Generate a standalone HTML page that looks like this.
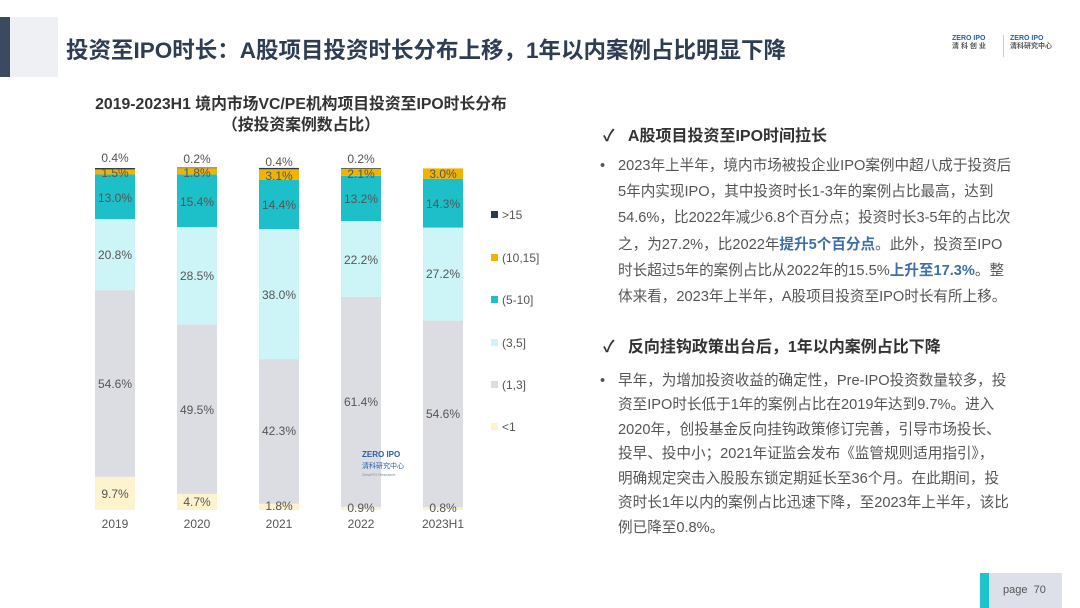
<!DOCTYPE html>
<html><head><meta charset="utf-8">
<style>
body{margin:0;width:1080px;height:608px;background:#fff;position:relative;overflow:hidden;font-family:"Liberation Sans","Noto Sans CJK SC",sans-serif;}
.abs{position:absolute;white-space:nowrap;}
.t{font-size:14.6px;color:#555;line-height:17px;}
.b{color:#3e6ea8;font-weight:bold;}
</style></head><body>
<div class="abs" style="left:0;top:17px;width:10px;height:60px;background:#3b4a5e"></div>
<div class="abs" style="left:10px;top:17px;width:48px;height:60px;background:#eef0f4"></div>
<div class="abs" style="left:66px;top:33px;font-size:22.5px;font-weight:bold;color:#2f3d52;">投资至IPO时长：A股项目投资时长分布上移，1年以内案例占比明显下降</div>
<div class="abs" style="left:952px;top:35px;font-size:7px;color:#2a5ea8;font-weight:bold;line-height:8px;">ZERO IPO<br><span style="color:#555">清 科 创 业</span></div>
<div class="abs" style="left:1003px;top:35px;width:1px;height:22px;background:#ccc"></div>
<div class="abs" style="left:1010px;top:35px;font-size:7px;color:#2a5ea8;font-weight:bold;line-height:8px;">ZERO IPO<br><span style="color:#555">清科研究中心</span></div>

<div class="abs" style="left:0;width:602px;top:94px;text-align:center;font-size:15.8px;font-weight:bold;color:#333;line-height:21px;">2019-2023H1 境内市场VC/PE机构项目投资至IPO时长分布<br>（按投资案例数占比）</div>

<svg class="abs" style="left:0;top:0" width="600" height="608" font-family="Liberation Sans, sans-serif" font-size="12" fill="#555" text-anchor="middle">
<g>
<rect x="95" y="476.8" width="40" height="33.2" fill="#fdf3cc"/><rect x="95" y="290.1" width="40" height="186.7" fill="#dcdde3"/><rect x="95" y="219" width="40" height="71.1" fill="#cdf4f6"/><rect x="95" y="174.5" width="40" height="44.5" fill="#1dbfc9"/><rect x="95" y="169.4" width="40" height="5.1" fill="#f0b400"/><rect x="95" y="168" width="40" height="1.4" fill="#2d3a4e"/>
<rect x="177" y="493.9" width="40" height="16.1" fill="#fdf3cc"/><rect x="177" y="324.6" width="40" height="169.3" fill="#dcdde3"/><rect x="177" y="227.1" width="40" height="97.5" fill="#cdf4f6"/><rect x="177" y="174.4" width="40" height="52.7" fill="#1dbfc9"/><rect x="177" y="168.2" width="40" height="6.2" fill="#f0b400"/><rect x="177" y="167.5" width="40" height="0.7" fill="#2d3a4e"/>
<rect x="259" y="503.8" width="40" height="6.2" fill="#fdf3cc"/><rect x="259" y="359.1" width="40" height="144.7" fill="#dcdde3"/><rect x="259" y="229.1" width="40" height="130" fill="#cdf4f6"/><rect x="259" y="179.9" width="40" height="49.2" fill="#1dbfc9"/><rect x="259" y="169.3" width="40" height="10.6" fill="#f0b400"/><rect x="259" y="167.9" width="40" height="1.4" fill="#2d3a4e"/>
<rect x="341" y="506.9" width="40" height="3.1" fill="#fdf3cc"/><rect x="341" y="296.9" width="40" height="210" fill="#dcdde3"/><rect x="341" y="221" width="40" height="75.9" fill="#cdf4f6"/><rect x="341" y="175.9" width="40" height="45.1" fill="#1dbfc9"/><rect x="341" y="168.7" width="40" height="7.2" fill="#f0b400"/><rect x="341" y="168" width="40" height="0.7" fill="#2d3a4e"/>
<rect x="423" y="507.3" width="40" height="2.7" fill="#fdf3cc"/><rect x="423" y="320.6" width="40" height="186.7" fill="#dcdde3"/><rect x="423" y="227.6" width="40" height="93" fill="#cdf4f6"/><rect x="423" y="178.7" width="40" height="48.9" fill="#1dbfc9"/><rect x="423" y="168.4" width="40" height="10.3" fill="#f0b400"/>
</g>
<g>
<text x="115" y="162">0.4%</text><text x="115" y="177">1.5%</text><text x="115" y="202">13.0%</text><text x="115" y="259">20.8%</text><text x="115" y="388">54.6%</text><text x="115" y="498">9.7%</text>
<text x="197" y="163">0.2%</text><text x="197" y="177">1.8%</text><text x="197" y="206">15.4%</text><text x="197" y="280">28.5%</text><text x="197" y="414">49.5%</text><text x="197" y="506">4.7%</text>
<text x="279" y="166">0.4%</text><text x="279" y="180">3.1%</text><text x="279" y="209">14.4%</text><text x="279" y="299">38.0%</text><text x="279" y="435">42.3%</text><text x="279" y="510">1.8%</text>
<text x="361" y="163">0.2%</text><text x="361" y="178">2.1%</text><text x="361" y="203">13.2%</text><text x="361" y="264">22.2%</text><text x="361" y="406">61.4%</text><text x="361" y="512">0.9%</text>
<text x="443" y="178">3.0%</text><text x="443" y="208">14.3%</text><text x="443" y="278">27.2%</text><text x="443" y="418">54.6%</text><text x="443" y="512">0.8%</text>
<text x="115" y="528">2019</text><text x="197" y="528">2020</text><text x="279" y="528">2021</text><text x="361" y="528">2022</text><text x="443" y="528">2023H1</text>
</g>
<g text-anchor="start" font-size="12">
<rect x="491" y="211" width="7" height="7" fill="#2d3a4e"/><text x="502" y="219">&gt;15</text>
<rect x="491" y="254" width="7" height="7" fill="#f0b400"/><text x="502" y="262">(10,15]</text>
<rect x="491" y="296" width="7" height="7" fill="#1dbfc9"/><text x="502" y="304">(5-10]</text>
<rect x="491" y="339" width="7" height="7" fill="#cdf4f6"/><text x="502" y="347">(3,5]</text>
<rect x="491" y="381" width="7" height="7" fill="#dcdde3"/><text x="502" y="389">(1,3]</text>
<rect x="491" y="423" width="7" height="7" fill="#fdf3cc"/><text x="502" y="431">&lt;1</text>
</g>
<g text-anchor="start">
<text x="362" y="457" font-size="8" font-weight="bold" fill="#2a5ea8">ZERO IPO</text>
<text x="362" y="468" font-size="7" fill="#2a5ea8" font-family="Noto Sans CJK SC">清科研究中心</text>
<text x="362" y="476" font-size="4" fill="#888">ZeroIPO Research</text>
</g>
</svg>

<div class="abs" style="left:603px;top:122px;font-size:16px;font-weight:bold;color:#333;">✓&nbsp;&nbsp;&nbsp;A股项目投资至IPO时间拉长</div>
<div class="abs t" style="left:600px;top:158px;">•</div>
<div class="abs t" style="left:618px;top:158px;">2023年上半年，境内市场被投企业IPO案例中超八成于投资后</div>
<div class="abs t" style="left:618px;top:184px;">5年内实现IPO，其中投资时长1-3年的案例占比最高，达到</div>
<div class="abs t" style="left:618px;top:210px;">54.6%，比2022年减少6.8个百分点；投资时长3-5年的占比次</div>
<div class="abs t" style="left:618px;top:237px;">之，为27.2%，比2022年<span class="b">提升5个百分点</span>。此外，投资至IPO</div>
<div class="abs t" style="left:618px;top:263px;">时长超过5年的案例占比从2022年的15.5%<span class="b">上升至17.3%</span>。整</div>
<div class="abs t" style="left:618px;top:289px;">体来看，2023年上半年，A股项目投资至IPO时长有所上移。</div>

<div class="abs" style="left:603px;top:333px;font-size:16px;font-weight:bold;color:#333;">✓&nbsp;&nbsp;&nbsp;反向挂钩政策出台后，1年以内案例占比下降</div>
<div class="abs t" style="left:600px;top:373px;">•</div>
<div class="abs t" style="left:618px;top:373px;">早年，为增加投资收益的确定性，Pre-IPO投资数量较多，投</div>
<div class="abs t" style="left:618px;top:397px;">资至IPO时长低于1年的案例占比在2019年达到9.7%。进入</div>
<div class="abs t" style="left:618px;top:422px;">2020年，创投基金反向挂钩政策修订完善，引导市场投长、</div>
<div class="abs t" style="left:618px;top:446px;">投早、投中小；2021年证监会发布《监管规则适用指引》，</div>
<div class="abs t" style="left:618px;top:471px;">明确规定突击入股股东锁定期延长至36个月。在此期间，投</div>
<div class="abs t" style="left:618px;top:495px;">资时长1年以内的案例占比迅速下降，至2023年上半年，该比</div>
<div class="abs t" style="left:618px;top:520px;">例已降至0.8%。</div>

<div class="abs" style="left:980px;top:573px;width:82px;height:35px;background:#dde0e8"></div>
<div class="abs" style="left:980px;top:573px;width:9px;height:35px;background:#1fc4cc"></div>
<div class="abs" style="left:1003px;top:584px;font-size:11px;color:#555;">page&nbsp;&nbsp;70</div>
</body></html>
